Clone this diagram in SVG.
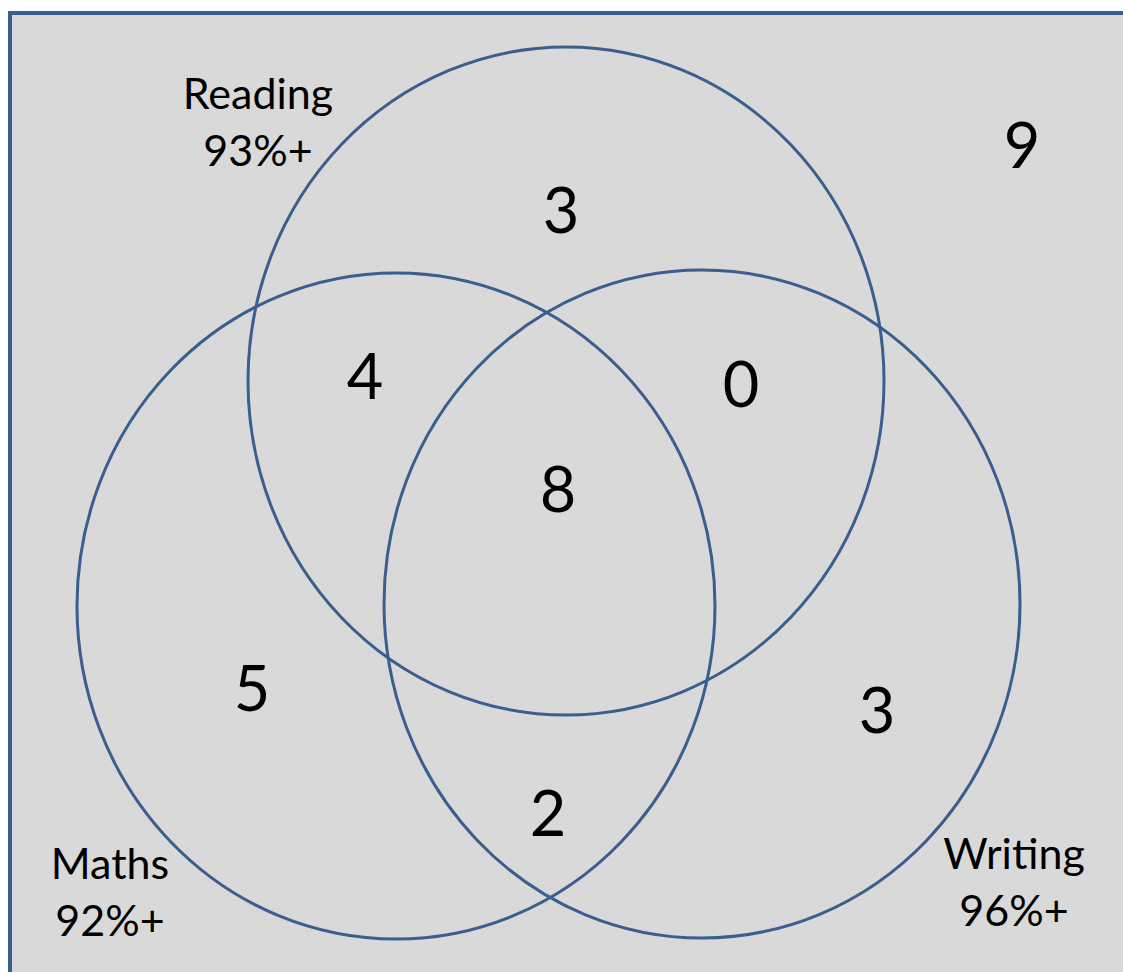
<svg xmlns="http://www.w3.org/2000/svg" width="1123" height="972" viewBox="0 0 1123 972">
<style>
.set{fill:none;stroke:#3a5f8e;stroke-width:3}
.lbl{font-family:Lato,"Open Sans","Liberation Sans",sans-serif;font-size:43px;fill:#000;text-anchor:middle}
.num{font-family:Lato,"Open Sans","Liberation Sans",sans-serif;font-size:63px;fill:#000;text-anchor:middle}
</style>
<rect x="0" y="0" width="1123" height="972" fill="#ffffff"/>
<rect id="frame" x="10" y="13" width="1130" height="980" fill="#d9d9d9" stroke="#3a5f8e" stroke-width="4"/>
<g id="reading">
<ellipse class="set" cx="566" cy="381" rx="318" ry="334"/>
<text class="lbl" x="258" y="109">Reading</text>
<text class="lbl" x="258" y="166">93%+</text>
</g>
<g id="maths">
<ellipse class="set" cx="396" cy="606" rx="319" ry="333"/>
<text class="lbl" x="110" y="879">Maths</text>
<text class="lbl" x="110" y="936">92%+</text>
</g>
<g id="writing">
<ellipse class="set" cx="702" cy="604" rx="318" ry="334"/>
<text class="lbl" x="1014" y="869">Writing</text>
<text class="lbl" x="1014" y="926">96%+</text>
</g>
<g id="counts">
<text class="num" x="1022" y="168">9</text>
<text class="num" x="561" y="233">3</text>
<text class="num" x="365" y="399">4</text>
<text class="num" x="741" y="407">0</text>
<text class="num" x="558" y="512">8</text>
<text class="num" x="252" y="711">5</text>
<text class="num" x="877" y="733">3</text>
<text class="num" x="548" y="836">2</text>
</g>
</svg>
